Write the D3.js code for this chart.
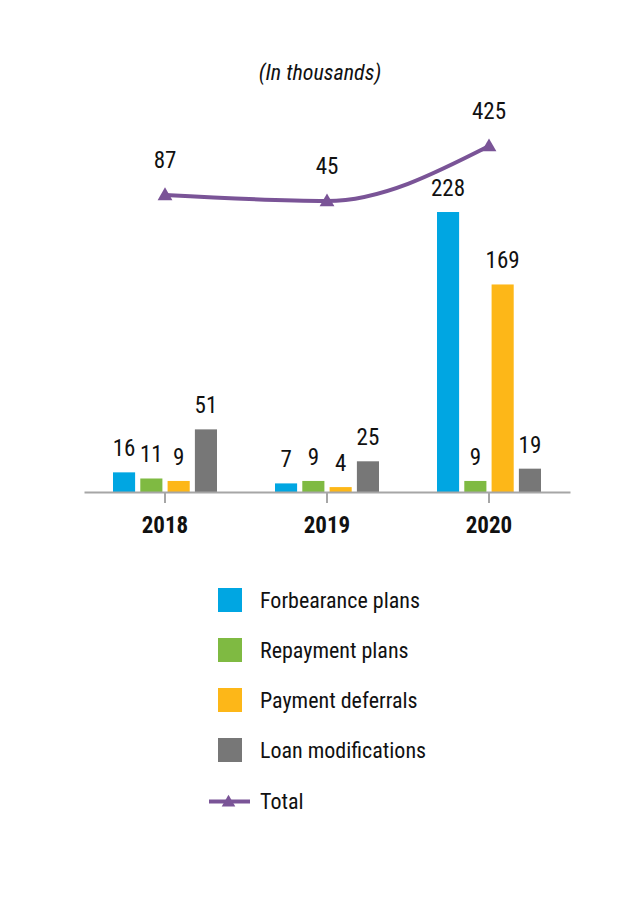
<!DOCTYPE html>
<html>
<head>
<meta charset="utf-8">
<script src="https://cdn.jsdelivr.net/npm/d3@7"></script>
<style>
  html, body { margin: 0; padding: 0; background: #fff; }
  svg text { font-family: "Liberation Sans Narrow", "Arial Narrow", "Roboto Condensed", "DejaVu Sans Condensed", sans-serif; font-stretch: condensed; fill: #111; }
</style>
</head>
<body>
<svg id="chart" width="636" height="900"></svg>
<script>
const years = ["2018", "2019", "2020"];
const seriesNames = ["Forbearance plans", "Repayment plans", "Payment deferrals", "Loan modifications"];
const forbearance = [16, 7, 228];
const repayment = [11, 9, 9];
const deferrals = [9, 4, 169];
const modifications = [51, 25, 19];
const totals = [87, 45, 425];
const colors = ["#00A6E2", "#7FBA42", "#FDB718", "#777777"];
const lineColor = "#7A5497";
const title = "(In thousands)";

const seriesValues = [forbearance, repayment, deferrals, modifications];
const svg = d3.select("#chart");

const x0 = d3.scaleBand().domain(years).range([84, 570]).padding(0);
const half = x0.bandwidth() / 2;
const x1 = d3.scaleBand().domain(seriesNames).range([half - 52, half + 52]).paddingInner(0.19);
const y = d3.scaleLinear().domain([0, 250]).range([492, 492 - 250 * 1.228]);
const y2 = d3.scaleLinear().domain([0, 425]).range([207.5, 146]);

// title
svg.append("text").attr("x", 320).attr("y", 80).attr("text-anchor", "middle")
  .style("font-style", "italic").style("font-size", "22px").text(title);

// bars
const groups = svg.selectAll("g.year").data(years).join("g")
  .attr("transform", d => `translate(${x0(d)},0)`);

seriesNames.forEach((s, si) => {
  groups.append("rect")
    .attr("x", x1(s))
    .attr("y", (d, i) => y(seriesValues[si][i]))
    .attr("width", x1.bandwidth())
    .attr("height", (d, i) => y(0) - y(seriesValues[si][i]))
    .attr("fill", colors[si]);
  groups.append("text")
    .attr("x", x1(s) + x1.bandwidth() / 2)
    .attr("y", (d, i) => y(seriesValues[si][i]) - 16)
    .attr("text-anchor", "middle")
    .style("font-size", "23px")
    .text((d, i) => seriesValues[si][i]);
});

// axis
const axis = d3.axisBottom(x0).tickSize(11).tickSizeOuter(0).tickPadding(14);
const ax = svg.append("g").attr("transform", `translate(0,${y(0)})`).call(axis);
ax.select(".domain").attr("stroke", "#A6A6A6").attr("stroke-width", 2);
ax.selectAll(".tick line").attr("stroke", "#A6A6A6").attr("stroke-width", 2).attr("y1", 0);
ax.selectAll(".tick text").style("font-size", "23px").style("font-weight", "bold")
  .attr("fill", "#111").attr("font-family", null);

// total line
const line = d3.line().x((d, i) => x0(years[i]) + half).y(d => y2(d)).curve(d3.curveMonotoneX);
svg.append("path").datum(totals).attr("d", line).attr("fill", "none")
  .attr("stroke", lineColor).attr("stroke-width", 4);
svg.selectAll("path.marker").data(totals).join("path").attr("class", "marker")
  .attr("d", d3.symbol(d3.symbolTriangle, 95))
  .attr("transform", (d, i) => `translate(${x0(years[i]) + half},${y2(d) + 1})`)
  .attr("fill", lineColor);
svg.selectAll("text.tot").data(totals).join("text").attr("class", "tot")
  .attr("x", (d, i) => x0(years[i]) + half)
  .attr("y", d => y2(d) - 27)
  .attr("text-anchor", "middle").style("font-size", "23px").text(d => d);

// legend
const lg = svg.append("g");
seriesNames.forEach((s, i) => {
  const cy = 600 + i * 50;
  lg.append("rect").attr("x", 218).attr("y", cy - 12).attr("width", 24).attr("height", 24).attr("fill", colors[i]);
  lg.append("text").attr("x", 260).attr("y", cy + 8).style("font-size", "22px").text(s);
});
const ty = 801.5;
lg.append("line").attr("x1", 209).attr("x2", 250).attr("y1", ty).attr("y2", ty)
  .attr("stroke", lineColor).attr("stroke-width", 4);
lg.append("path").attr("d", d3.symbol(d3.symbolTriangle, 80))
  .attr("transform", `translate(228.5,${ty + 1})`).attr("fill", lineColor);
lg.append("text").attr("x", 260).attr("y", ty + 7).style("font-size", "22px").text("Total");
</script>
</body>
</html>
